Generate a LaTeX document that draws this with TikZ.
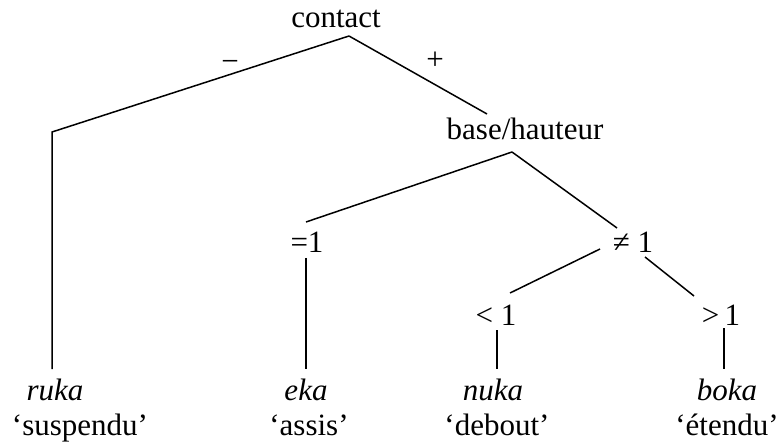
\documentclass[tikz,border=0pt]{standalone}
\usepackage{fontspec}
\setmainfont{Liberation Serif}
\begin{document}
\begin{tikzpicture}[x=1pt,y=-1pt,
  lbl/.style={inner sep=0pt,anchor=base,font=\fontsize{31}{37}\selectfont},
  edge/.style={line width=1.5pt,line join=miter}]
\useasboundingbox (0,0) rectangle (778,443);
% nodes
\node[lbl] (contact) at (336,28) {contact};
\node[lbl] (minus) at (230,72) {−};
\node[lbl] (plus) at (435,70) {+};
\node[lbl] (bh) at (525,140) {base/hauteur};
\node[lbl] (eq) at (307,253) {=1};
\node[lbl] (neq) at (633,253) {≠ 1};
\node[lbl] (lt) at (496,325) {< 1};
\node[lbl] (gt) at (721,325) {>\,1};
\node[lbl] (ruka) at (55,400) {\itshape ruka};
\node[lbl] (eka) at (306,400) {\itshape eka};
\node[lbl] (nuka) at (493,400) {\itshape nuka};
\node[lbl] (boka) at (727,400) {\itshape boka};
\node[lbl] (g1) at (80,435) {‘suspendu’};
\node[lbl] (g2) at (309,435) {‘assis’};
\node[lbl] (g3) at (497,435) {‘debout’};
\node[lbl] (g4) at (727,435) {‘étendu’};
% joints
\coordinate (contactF) at (349,36);
\coordinate (corner) at (52,132);
\coordinate (rukaT) at (52,369);
\coordinate (bhT) at (487,114);
\coordinate (bhF) at (512,152);
\coordinate (eqT) at (306,222);
\coordinate (eqF) at (306,258);
\coordinate (ekaT) at (306,369);
\coordinate (neqT) at (617,228);
\coordinate (neqL) at (600,249);
\coordinate (ltT) at (510,293);
\coordinate (ltF) at (497,330);
\coordinate (nukaT) at (497,369);
\coordinate (neqR) at (645,257);
\coordinate (gtT) at (694,296);
\coordinate (gtF) at (724,328);
\coordinate (bokaT) at (724,369);
% connectors
\draw[edge] (contactF) -- (corner) -- (rukaT);
\draw[edge] (contactF) -- (bhT);
\draw[edge] (bhF) -- (eqT);
\draw[edge] (bhF) -- (neqT);
\draw[edge] (eqF) -- (ekaT);
\draw[edge] (neqL) -- (ltT);
\draw[edge] (neqR) -- (gtT);
\draw[edge] (ltF) -- (nukaT);
\draw[edge] (gtF) -- (bokaT);
\end{tikzpicture}
\end{document}
